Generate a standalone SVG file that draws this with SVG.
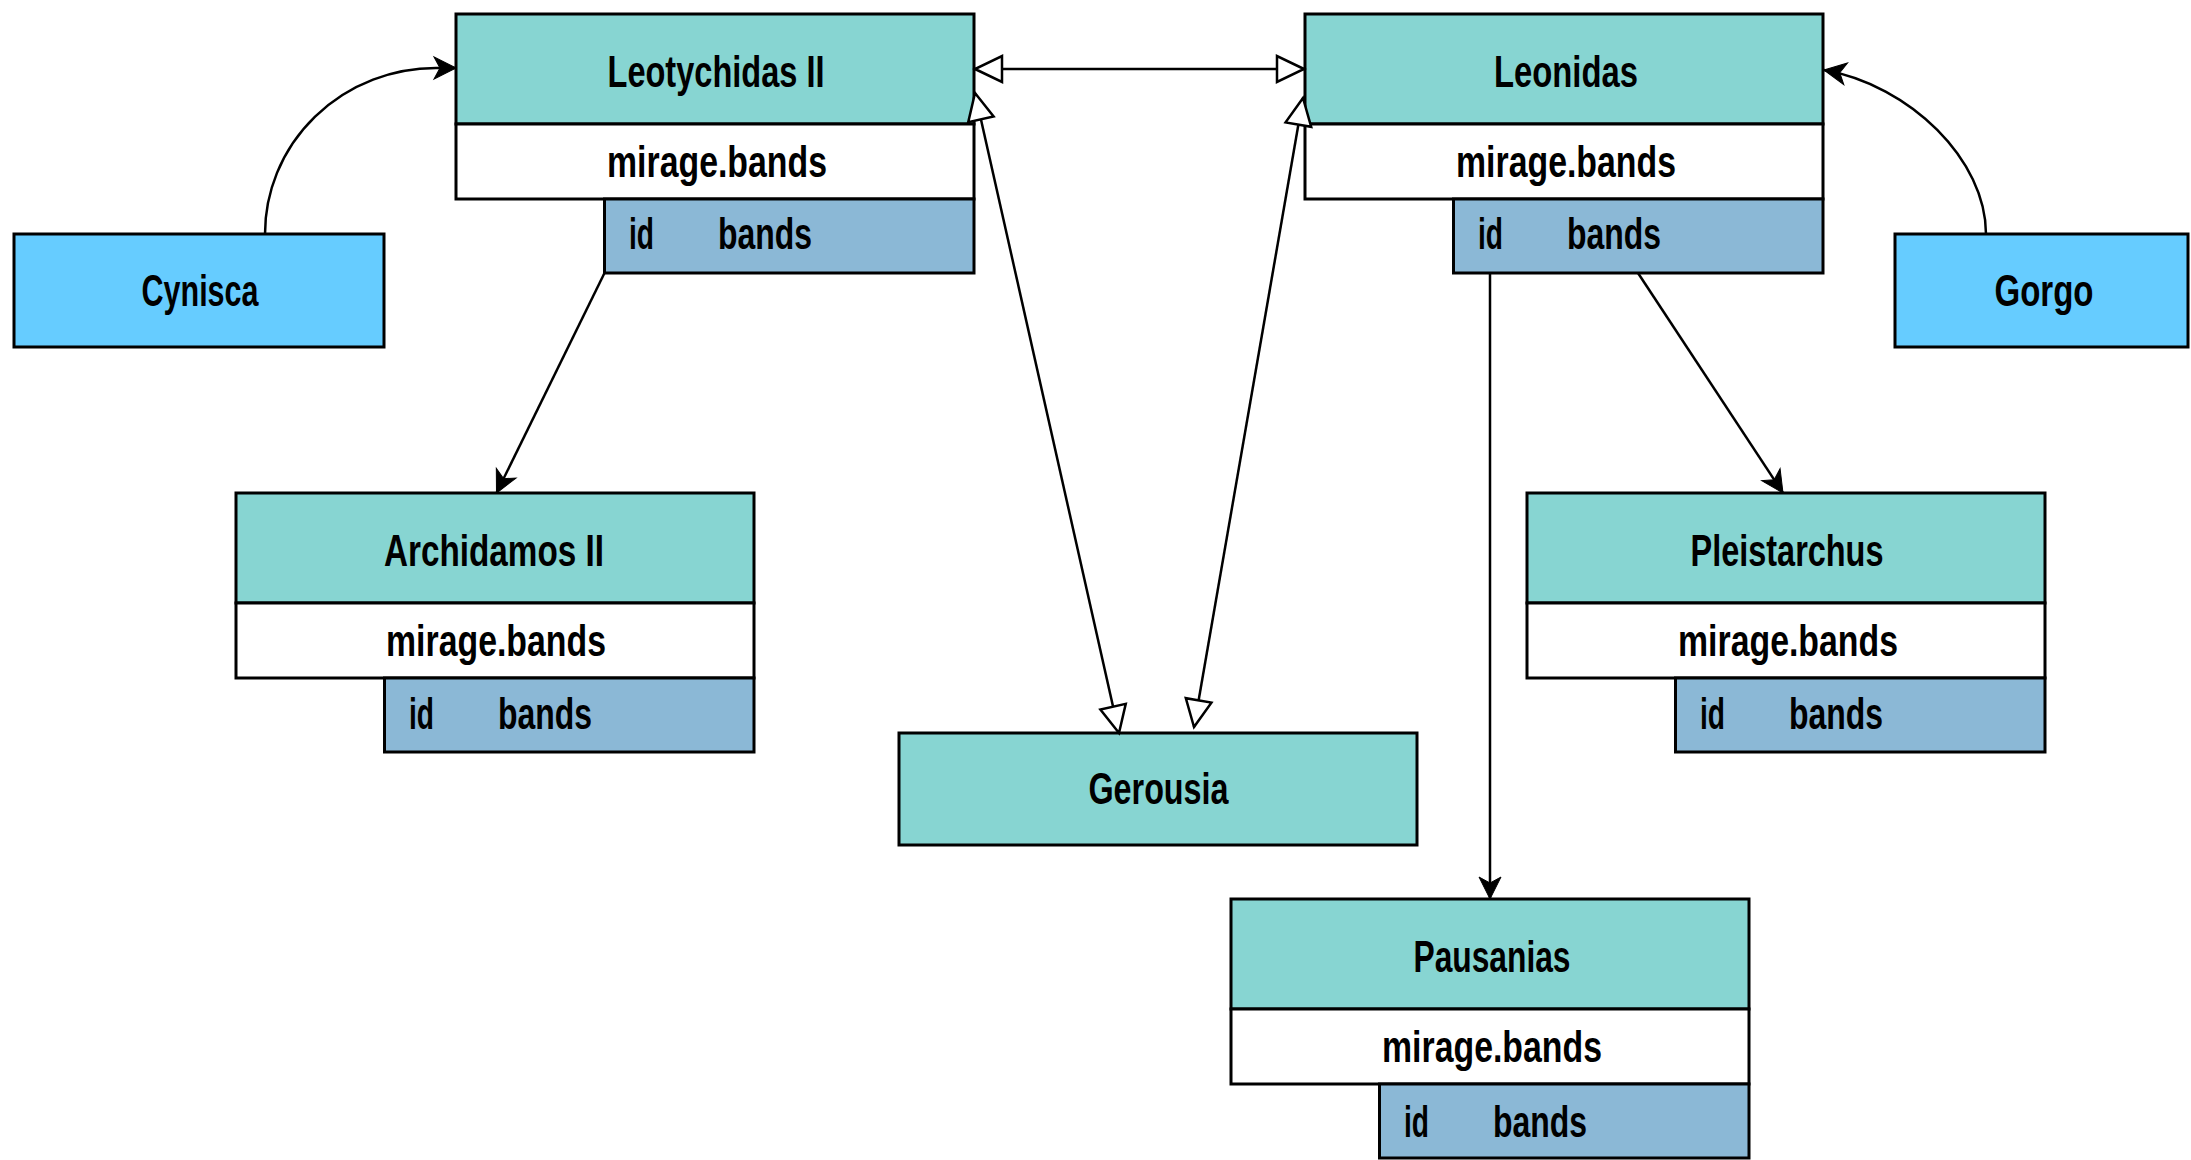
<svg xmlns="http://www.w3.org/2000/svg" width="2191" height="1160" viewBox="0 0 2191 1160">
<style>
.hd{fill:#87D5D2;stroke:#000;stroke-width:3}
.row{fill:#FFFFFF;stroke:#000;stroke-width:3}
.idr{fill:#8BB8D6;stroke:#000;stroke-width:3}
.ext{fill:#66CCFF;stroke:#000;stroke-width:3}
text{font-family:"Liberation Sans Narrow","Liberation Sans",Arial,sans-serif;font-weight:bold;font-size:44px;fill:#000}
.c{text-anchor:middle}
.ln{fill:none;stroke:#000;stroke-width:2.5}
.fa{marker-end:url(#arrow)}
.bi{marker-start:url(#tri);marker-end:url(#tri)}
</style>
<defs>
<marker id="arrow" markerUnits="userSpaceOnUse" viewBox="-24 -12 26 24" markerWidth="26" markerHeight="24" refX="0" refY="0" orient="auto" overflow="visible">
<path d="M0,0 L-22,-11 L-16,0 L-22,11 Z" fill="#000" stroke="#000" stroke-width="1"/>
</marker>
<marker id="tri" markerUnits="userSpaceOnUse" viewBox="-30 -16 32 32" markerWidth="32" markerHeight="32" refX="0" refY="0" orient="auto-start-reverse" overflow="visible">
<path d="M0,0 L-27,-13 L-27,13 Z" fill="#FFF" stroke="#000" stroke-width="2.5"/>
</marker>
</defs>

<g id="node-leotychidas">
<rect class="hd" x="456" y="14" width="518" height="110"/>
<rect class="row" x="456" y="124" width="518" height="75"/>
<rect class="idr" x="604.5" y="199" width="369.5" height="74"/>
<text class="c" x="716" y="87" textLength="217" lengthAdjust="spacingAndGlyphs">Leotychidas II</text>
<text class="c" x="717" y="177" textLength="220" lengthAdjust="spacingAndGlyphs">mirage.bands</text>
<text x="629" y="249" textLength="25" lengthAdjust="spacingAndGlyphs">id</text>
<text x="718" y="249" textLength="94" lengthAdjust="spacingAndGlyphs">bands</text>
</g>

<g id="node-leonidas">
<rect class="hd" x="1305" y="14" width="518" height="110"/>
<rect class="row" x="1305" y="124" width="518" height="75"/>
<rect class="idr" x="1453.5" y="199" width="369.5" height="74"/>
<text class="c" x="1566" y="87" textLength="144" lengthAdjust="spacingAndGlyphs">Leonidas</text>
<text class="c" x="1566" y="177" textLength="220" lengthAdjust="spacingAndGlyphs">mirage.bands</text>
<text x="1478" y="249" textLength="25" lengthAdjust="spacingAndGlyphs">id</text>
<text x="1567" y="249" textLength="94" lengthAdjust="spacingAndGlyphs">bands</text>
</g>

<g id="node-archidamos">
<rect class="hd" x="236" y="493" width="518" height="110"/>
<rect class="row" x="236" y="603" width="518" height="75"/>
<rect class="idr" x="384.5" y="678" width="369.5" height="74"/>
<text class="c" x="494" y="566" textLength="220" lengthAdjust="spacingAndGlyphs">Archidamos II</text>
<text class="c" x="496" y="656" textLength="220" lengthAdjust="spacingAndGlyphs">mirage.bands</text>
<text x="409" y="729" textLength="25" lengthAdjust="spacingAndGlyphs">id</text>
<text x="498" y="729" textLength="94" lengthAdjust="spacingAndGlyphs">bands</text>
</g>

<g id="node-pleistarchus">
<rect class="hd" x="1527" y="493" width="518" height="110"/>
<rect class="row" x="1527" y="603" width="518" height="75"/>
<rect class="idr" x="1675.5" y="678" width="369.5" height="74"/>
<text class="c" x="1787" y="566" textLength="193" lengthAdjust="spacingAndGlyphs">Pleistarchus</text>
<text class="c" x="1788" y="656" textLength="220" lengthAdjust="spacingAndGlyphs">mirage.bands</text>
<text x="1700" y="729" textLength="25" lengthAdjust="spacingAndGlyphs">id</text>
<text x="1789" y="729" textLength="94" lengthAdjust="spacingAndGlyphs">bands</text>
</g>

<g id="node-pausanias">
<rect class="hd" x="1231" y="899" width="518" height="110"/>
<rect class="row" x="1231" y="1009" width="518" height="75"/>
<rect class="idr" x="1379.5" y="1084" width="369.5" height="74"/>
<text class="c" x="1492" y="972" textLength="157" lengthAdjust="spacingAndGlyphs">Pausanias</text>
<text class="c" x="1492" y="1062" textLength="220" lengthAdjust="spacingAndGlyphs">mirage.bands</text>
<text x="1404" y="1137" textLength="25" lengthAdjust="spacingAndGlyphs">id</text>
<text x="1493" y="1137" textLength="94" lengthAdjust="spacingAndGlyphs">bands</text>
</g>

<g id="node-gerousia">
<rect class="hd" x="899" y="733" width="518" height="112"/>
<text class="c" x="1158.5" y="804" textLength="140" lengthAdjust="spacingAndGlyphs">Gerousia</text>
</g>

<g id="node-cynisca">
<rect class="ext" x="14" y="234" width="370" height="113"/>
<text class="c" x="200" y="306" textLength="117" lengthAdjust="spacingAndGlyphs">Cynisca</text>
</g>

<g id="node-gorgo">
<rect class="ext" x="1895" y="234" width="293" height="113"/>
<text class="c" x="2044" y="306" textLength="99" lengthAdjust="spacingAndGlyphs">Gorgo</text>
</g>

<g id="connectors">
<path class="ln fa" d="M265,234 A171,166 0 0 1 436,68 L456,68"/>
<path class="ln fa" d="M1986,234 C1986,160 1910,85 1824,70"/>
<path class="ln fa" d="M604.5,273 L496.5,493"/>
<path class="ln fa" d="M1490,273 L1490,899"/>
<path class="ln fa" d="M1638,273 L1783,493"/>
<path class="ln bi" d="M975,69 L1304,69"/>
<path class="ln bi" d="M975,93 L1119,733"/>
<path class="ln bi" d="M1303,98 L1194,727"/>
</g>
</svg>
